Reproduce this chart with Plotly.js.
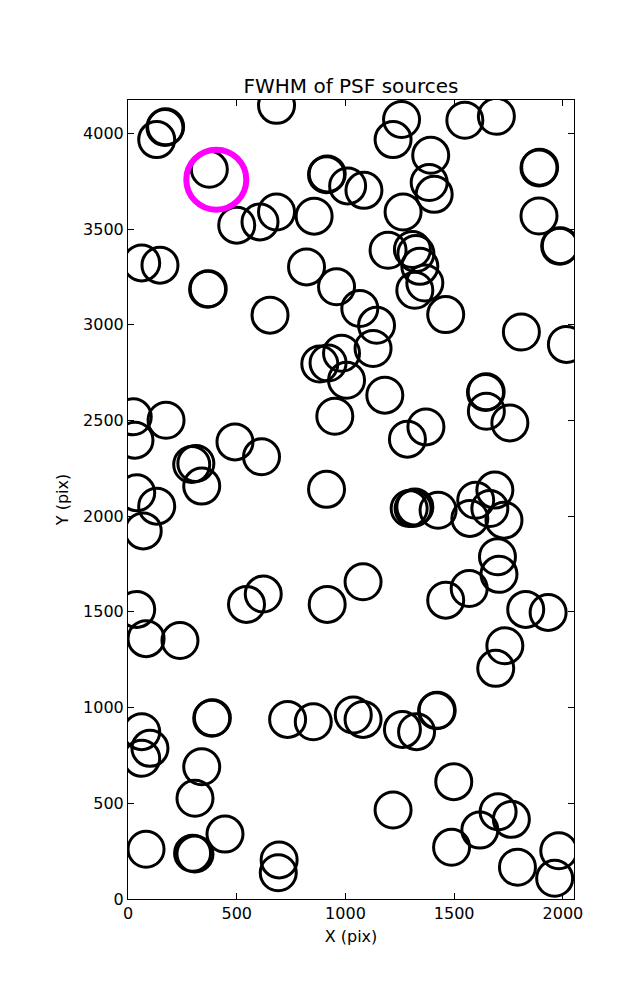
<!DOCTYPE html>
<html>
<head>
<meta charset="utf-8">
<script src="https://cdn.plot.ly/plotly-3.0.1.min.js"></script>
<style>html,body{margin:0;padding:0;background:#fff;}#chart{width:637px;height:1000px;}</style>
</head>
<body>
<div id="chart"></div>
<script>
// PSF source positions (pixels)
const srcX = [170,173,132,683,374,913,916,1010,1085,500,607,683,856,63,147,366,369,653,821,959,1066,
  1258,1219,1549,1694,1392,1385,1408,1265,1890,1893,1890,1985,1988,1196,1308,1324,1342,1365,1319,1461,
  1809,2016,1143,1127,982,882,920,1005,951,24,175,32,492,614,293,312,339,913,40,132,70,40,83,239,
  545,622,916,1081,1181,1370,1285,1644,1647,1648,1756,1293,1311,1319,1426,1599,1687,1664,1572,1729,
  1699,1706,1461,1569,1829,1932,1733,1691,385,388,63,101,63,339,308,446,83,297,308,695,691,734,852,
  1036,1081,1262,1327,1419,1422,1498,1219,1702,1763,1618,1488,1791,1981,1962];
const srcY = [4030,4034,3967,4146,3812,3784,3788,3725,3702,3520,3537,3589,3567,3323,3311,3185,3188,3050,3302,3198,3085,
  4072,3967,4068,4089,3885,3743,3681,3589,3819,3823,3568,3410,3413,3389,3393,3372,3305,3218,3180,3053,
  2962,2897,2997,2876,2851,2795,2800,2710,2522,2519,2501,2397,2388,2310,2270,2275,2157,2140,2122,2052,1923,1513,1360,1350,
  1539,1593,1539,1657,2632,2466,2402,2646,2650,2548,2487,2040,2040,2048,2031,2083,2136,2040,1988,1979,
  1788,1696,1561,1622,1513,1497,1323,1205,944,947,874,787,735,691,526,339,260,239,235,204,137,938,926,
  961,938,886,874,983,986,613,465,456,416,360,270,166,252,108];
// highlighted source
const hiX = [406];
const hiY = [3758];

const xTicks = [0,500,1000,1500,2000];
const yTicks = [0,500,1000,1500,2000,2500,3000,3500,4000];

const font = {family: 'DejaVu Sans, sans-serif', color: '#000', size: 16};

const traces = [
  {x: srcX, y: srcY, type: 'scatter', mode: 'markers', cliponaxis: true,
   marker: {symbol: 'circle-open', size: 36, color: '#000', line: {color: '#000', width: 3}},
   hoverinfo: 'x+y'},
  {x: hiX, y: hiY, type: 'scatter', mode: 'markers', cliponaxis: true,
   marker: {symbol: 'circle-open', size: 60, color: '#ff00ff', line: {color: '#ff00ff', width: 6}},
   hoverinfo: 'x+y'}
];

const axisCommon = {
  showgrid: false, zeroline: false, showline: true, linecolor: '#000', linewidth: 1,
  mirror: 'allticks', ticks: 'inside', ticklen: 6, tickwidth: 1, tickcolor: '#000',
  tickfont: font, automargin: false
};

const layout = {
  width: 637, height: 1000,
  margin: {l: 128, r: 63, t: 100, b: 101},
  paper_bgcolor: '#fff', plot_bgcolor: '#fff',
  showlegend: false,
  font: font,
  title: {text: 'FWHM of PSF sources', font: {family: 'DejaVu Sans, sans-serif', size: 20, color: '#000'},
          x: 0.551, xanchor: 'center', xref: 'container', y: 0.914, yanchor: 'middle', yref: 'container'},
  xaxis: Object.assign({}, axisCommon, {range: [0, 2051], tickvals: xTicks, ticktext: xTicks.map(String),
          title: {text: 'X (pix)', font: font, standoff: 8}}),
  yaxis: Object.assign({}, axisCommon, {range: [0, 4174], tickvals: yTicks, ticktext: yTicks.map(String),
          title: {text: 'Y (pix)', font: font, standoff: 10}})
};

Plotly.newPlot('chart', traces, layout, {displayModeBar: false, staticPlot: true});
</script>
</body>
</html>
